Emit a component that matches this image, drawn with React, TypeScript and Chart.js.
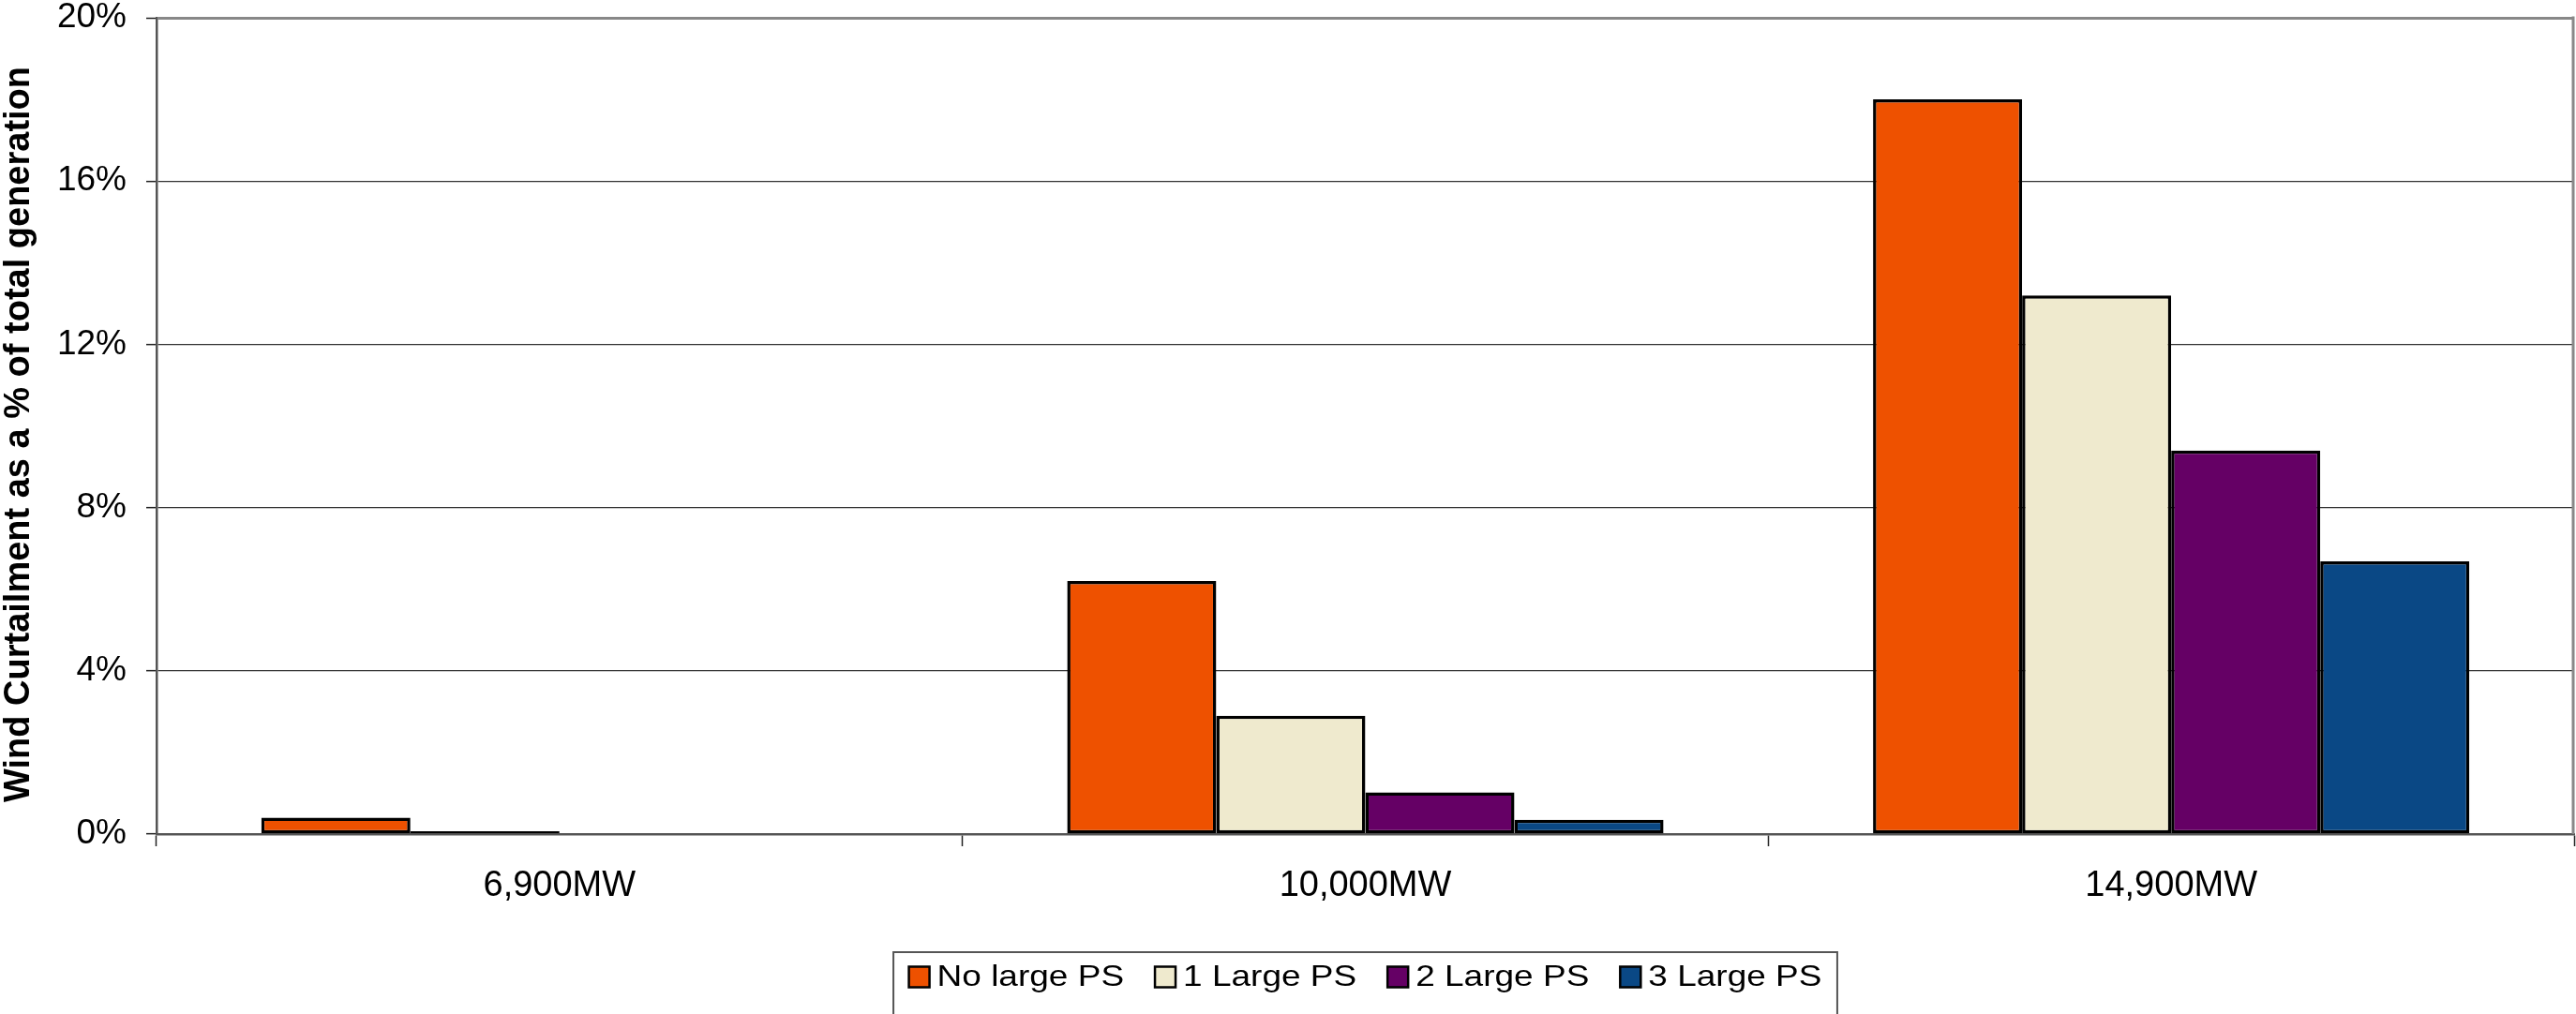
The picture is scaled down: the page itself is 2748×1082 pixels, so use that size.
import React, { useEffect, useRef } from "react";
import { Chart, registerables } from "chart.js";

Chart.register(...registerables);

// Installed capacity scenarios and curtailment (% of total generation)
const categories = ["6,900MW", "10,000MW", "14,900MW"];
const seriesNames = ["No large PS", "1 Large PS", "2 Large PS", "3 Large PS"];
const noLargePS = [0.4, 6.2, 18.0];
const oneLargePS = [0.07, 2.9, 13.2];
const twoLargePS = [0, 1.02, 9.4];
const threeLargePS = [0, 0.35, 6.68];
const seriesColors = ["#EE5100", "#EFEACE", "#650065", "#0A4885"];
const yTickValues = [0, 4, 8, 12, 16, 20];
const yAxisTitle = "Wind Curtailment as a % of total generation";

const FONT = "'Liberation Sans', Arial, Helvetica, sans-serif";
const W = 2748;
const H = 1082;

// Grey frame line on the right edge of the plot area
const plotFrame = {
  id: "plotFrame",
  afterDatasetsDraw(chart: any) {
    const { ctx, chartArea } = chart;
    ctx.save();
    ctx.strokeStyle = "#888";
    ctx.lineWidth = 3;
    ctx.beginPath();
    ctx.moveTo(chartArea.right - 1, chartArea.top - 1.5);
    ctx.lineTo(chartArea.right - 1, chartArea.bottom);
    ctx.stroke();
    ctx.restore();
  },
};

// Rotated value-axis title, sitting slightly below the plot's mid-height
const valueAxisTitle = {
  id: "valueAxisTitle",
  afterDraw(chart: any) {
    const { ctx, chartArea } = chart;
    const cy = (chartArea.top + chartArea.bottom) / 2 + 9;
    ctx.save();
    ctx.translate(21, cy);
    ctx.rotate(-Math.PI / 2);
    ctx.font = `bold 38px ${FONT}`;
    ctx.fillStyle = "#000";
    ctx.textAlign = "center";
    ctx.textBaseline = "middle";
    ctx.fillText(yAxisTitle, 0, 0);
    ctx.restore();
  },
};

// Boxed single-row legend centred under the plot area
const boxedLegend = {
  id: "boxedLegend",
  afterDraw(chart: any) {
    const { ctx, chartArea } = chart;
    const datasets = chart.data.datasets;
    const fontSize = 37;
    const swatch = 22;
    const gapText = 8;
    const gapItem = 33;
    ctx.save();
    ctx.font = `${fontSize}px ${FONT}`;
    const widths = datasets.map((ds: any) => ctx.measureText(ds.label).width);
    const content =
      widths.reduce((a: number, w: number) => a + swatch + gapText + w, 0) +
      gapItem * (datasets.length - 1);
    const boxW = content + 33;
    const cx = (chartArea.left + chartArea.right) / 2;
    const boxL = cx - boxW / 2;
    const boxT = chartArea.bottom + 126;
    ctx.strokeStyle = "#555";
    ctx.lineWidth = 2;
    ctx.strokeRect(boxL, boxT, boxW, H - boxT + 20);

    const cy = boxT + 26.5;
    let x = boxL + 16.5;
    datasets.forEach((ds: any, i: number) => {
      ctx.fillStyle = ds.backgroundColor;
      ctx.fillRect(x, cy - swatch / 2, swatch, swatch);
      ctx.strokeStyle = "#000";
      ctx.lineWidth = 2.5;
      ctx.strokeRect(x, cy - swatch / 2, swatch, swatch);
      x += swatch + gapText;
      ctx.save();
      ctx.translate(x, cy);
      ctx.scale(1, 0.86);
      ctx.fillStyle = "#000";
      ctx.textBaseline = "middle";
      ctx.textAlign = "left";
      ctx.fillText(ds.label, 0, 1);
      ctx.restore();
      x += widths[i] + gapItem;
    });
    ctx.restore();
  },
};

export default function App() {
  const canvasRef = useRef<HTMLCanvasElement>(null);

  useEffect(() => {
    document.body.style.margin = "0";
    document.body.style.overflow = "hidden";
    const canvas = canvasRef.current;
    if (!canvas) return;

    const values = [noLargePS, oneLargePS, twoLargePS, threeLargePS];

    const chart = new Chart(canvas, {
      type: "bar",
      data: {
        labels: categories,
        datasets: seriesNames.map((name, i) => ({
          label: name,
          data: values[i],
          backgroundColor: seriesColors[i],
          borderColor: "#000",
          borderWidth: 3.5,
          borderSkipped: false,
          categoryPercentage: 0.74,
          barPercentage: 1,
        })),
      },
      options: {
        animation: false,
        responsive: false,
        devicePixelRatio: 1,
        layout: { padding: { top: 19, right: 2, bottom: 92, left: 0 } },
        plugins: {
          legend: { display: false },
          tooltip: { enabled: false },
        },
        scales: {
          x: {
            offset: true,
            afterFit: (scale: any) => {
              scale.height = 100;
            },
            grid: {
              drawOnChartArea: false,
              drawTicks: true,
              tickLength: 13,
              tickColor: "#222",
              tickWidth: 1.5,
            },
            border: { display: true, color: "#555", width: 2.5 },
            ticks: {
              color: "#000",
              padding: 20,
              font: { family: FONT, size: 38 },
            },
          },
          y: {
            min: 0,
            max: 20,
            afterFit: (scale: any) => {
              scale.width = 167;
              scale.paddingTop = 0;
              scale.paddingBottom = 0;
            },
            afterBuildTicks: (scale: any) => {
              scale.ticks = yTickValues.map((v) => ({ value: v }));
            },
            grid: {
              color: (c: any) => (c.tick && c.tick.value === 20 ? "#888" : "#333"),
              lineWidth: (c: any) => (c.tick && c.tick.value === 20 ? 3 : 1.3),
              drawTicks: true,
              tickLength: 11,
              tickColor: "#222",
              tickWidth: 1.5,
            },
            border: { display: true, color: "#555", width: 2.5 },
            ticks: {
              color: "#000",
              padding: 21,
              font: { family: FONT, size: 37, lineHeight: 1 },
              callback: (v: any) => `${v}%`,
            },
            title: { display: false },
          },
        },
      },
      plugins: [plotFrame, valueAxisTitle, boxedLegend],
    } as any);

    return () => chart.destroy();
  }, []);

  return (
    <div style={{ width: W, height: H, background: "#fff" }}>
      <canvas ref={canvasRef} width={W} height={H} style={{ display: "block" }} />
    </div>
  );
}
